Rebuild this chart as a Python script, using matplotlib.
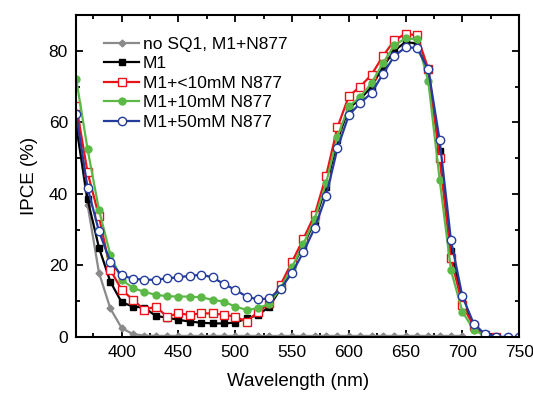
import numpy as np
import matplotlib.pyplot as plt
from matplotlib.ticker import MultipleLocator

# Wavelengths (nm) for each curve
wl_gray = np.arange(360, 701, 10)
wl_black = np.arange(360, 731, 10)
wl_red = np.arange(360, 731, 10)
wl_green = np.arange(360, 721, 10)
wl_blue = np.arange(360, 751, 10)

# IPCE (%)
ipce_gray = [60, 37, 18, 8, 2.5, 0.8, 0.4, 0.3, 0.3, 0.3, 0.3, 0.3, 0.3, 0.3, 0.3,
             0.3, 0.3, 0.3, 0.3, 0.3, 0.3, 0.3, 0.3, 0.3, 0.3, 0.3, 0.3, 0.3, 0.3,
             0.3, 0.3, 0.3, 0.3, 0.3, 0.3]
ipce_black = [59, 38.5, 25, 15.5, 9.7, 8.5, 8.2, 5.9, 5.4, 4.8, 4.3, 4.0, 3.8, 3.8,
              4.0, 5.2, 6.1, 8.5, 13.5, 19.5, 25.5, 32.5, 42, 55, 64, 66.5, 70, 75.5,
              80, 82.5, 82, 74.5, 52, 24, 10, 3, 0.5, 0]
ipce_red = [64.7, 46, 33.8, 18.8, 13.2, 10.4, 7.6, 8.5, 5.7, 6.6, 6.2, 6.6, 6.6, 6.2,
            5.7, 4.3, 7, 9.4, 14.6, 21, 27.4, 34.2, 45, 58.6, 67.3, 70, 73.3, 78.5,
            82.9, 84.8, 84.3, 75, 50, 22, 9, 3, 0.5, 0]
ipce_green = [72.1, 52.5, 35.6, 23, 16, 13.7, 12.6, 11.8, 11.4, 11.3, 11.3, 11.1, 10.4,
              9.9, 8.5, 7.6, 8, 9.3, 13.7, 19.5, 26, 33, 43, 56, 64.5, 67, 71, 76.5,
              81.5, 83.5, 83.2, 71.5, 44, 18.6, 7.1, 2, 0.3]
ipce_blue = [62.3, 41.7, 29.6, 21, 17.2, 16.3, 16, 16, 16.4, 16.7, 17.1, 17.4, 16.7,
             14.8, 13.2, 11.3, 10.5, 10.8, 13.5, 17.9, 23.7, 30.5, 39.4, 52.7, 62,
             65.4, 68.2, 73.5, 78.5, 81, 80.8, 74.8, 55, 27, 11.4, 3.7, 0.8, 0.1, 0, 0]

labels = ['no SQ1, M1+N877', 'M1', 'M1+<10mM N877', 'M1+10mM N877', 'M1+50mM N877']

plt.rcParams['font.family'] = ['Liberation Sans', 'DejaVu Sans']

fig = plt.figure(figsize=(5.33, 3.96), dpi=100)
ax = fig.add_axes([0.143, 0.149, 0.831, 0.813])

ax.plot(wl_gray, ipce_gray, '-D', color='#8a8a8a', lw=1.6, ms=3.5, label=labels[0])
ax.plot(wl_black, ipce_black, '-s', color='black', lw=1.6, ms=5, label=labels[1])
ax.plot(wl_red, ipce_red, '-s', color='#e8141a', lw=1.6, ms=5.5,
        mfc='white', mec='#e8141a', mew=1, label=labels[2])
ax.plot(wl_green, ipce_green, '-o', color='#5cb847', lw=1.6, ms=5, label=labels[3])
ax.plot(wl_blue, ipce_blue, '-o', color='#243c9c', lw=1.6, ms=6,
        mfc='white', mec='#243c9c', mew=1, label=labels[4])

ax.set_xlim(360, 750)
ax.set_ylim(0, 90)
ax.xaxis.set_major_locator(MultipleLocator(50))
ax.xaxis.set_minor_locator(MultipleLocator(25))
ax.yaxis.set_major_locator(MultipleLocator(20))
ax.yaxis.set_minor_locator(MultipleLocator(10))
ax.tick_params(which='both', direction='in', top=True, right=True, width=1.3)
ax.tick_params(which='major', length=5, labelsize=12.5, pad=6)
ax.tick_params(which='minor', length=3)
for s in ax.spines.values():
    s.set_linewidth(1.5)

ax.set_xlabel('Wavelength (nm)', fontsize=13.5, labelpad=9)
ax.set_ylabel('IPCE (%)', fontsize=13.5, labelpad=8)

ax.legend(loc='upper left', bbox_to_anchor=(0.04, 0.965), frameon=False,
          fontsize=12.5, labelspacing=0.25, handlelength=2.0, handletextpad=0.2,
          borderaxespad=0.2)

fig.savefig('out.png', dpi=100)
